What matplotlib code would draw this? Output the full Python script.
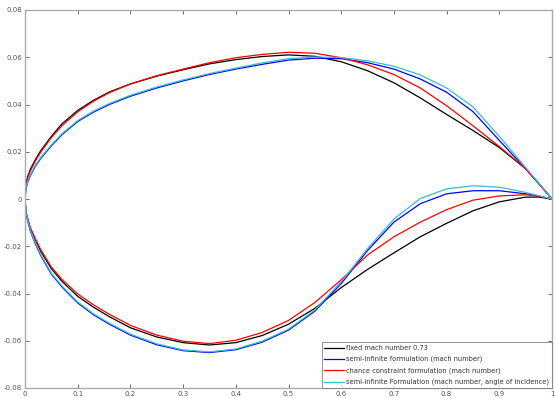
# airfoil shapes: fixed vs robust formulations
import matplotlib
matplotlib.use('Agg')
import matplotlib.pyplot as plt

xs = [0, 0.002, 0.005, 0.01, 0.02, 0.03, 0.05, 0.07, 0.1, 0.13, 0.16, 0.2, 0.25, 0.3,
      0.35, 0.4, 0.45, 0.5, 0.55, 0.6, 0.65, 0.7, 0.75, 0.8, 0.85, 0.9, 0.95, 0.975, 1.0]

# upper surfaces
fixed_up = [0, 0.0068, 0.0095, 0.0125, 0.0168, 0.0205, 0.0265, 0.0318, 0.0375, 0.0418,
            0.0453, 0.0487, 0.052, 0.0547, 0.0572, 0.059, 0.0603, 0.061, 0.0604, 0.0581,
            0.0543, 0.0492, 0.0428, 0.0358, 0.029, 0.0218, 0.0128, 0.0065, 0]
semi_up = [0, 0.0045, 0.007, 0.0098, 0.014, 0.0172, 0.0225, 0.0272, 0.0328, 0.0368,
           0.040, 0.0435, 0.047, 0.050, 0.0527, 0.055, 0.057, 0.0588, 0.0596, 0.0594,
           0.0577, 0.055, 0.0508, 0.0452, 0.037, 0.0248, 0.0128, 0.0065, 0]
chance_up = [0, 0.0058, 0.0088, 0.0118, 0.0162, 0.0199, 0.026, 0.031, 0.0369, 0.0414,
             0.045, 0.0487, 0.0522, 0.055, 0.0577, 0.0598, 0.0612, 0.0621, 0.0617, 0.0598,
             0.0568, 0.0527, 0.047, 0.0395, 0.031, 0.0222, 0.0128, 0.0066, 0]
semi_aoa_up = [0, 0.0048, 0.0074, 0.0102, 0.0144, 0.0176, 0.0229, 0.0276, 0.0332, 0.0372,
               0.0404, 0.0439, 0.0474, 0.0504, 0.0531, 0.0554, 0.0576, 0.0594, 0.0601, 0.0599,
               0.0585, 0.0562, 0.0525, 0.047, 0.039, 0.0265, 0.0133, 0.0067, 0]

# lower surfaces
fixed_lo = [0, -0.006, -0.0085, -0.0125, -0.0175, -0.0222, -0.0295, -0.0348, -0.0412,
            -0.0458, -0.0498, -0.0545, -0.0584, -0.0608, -0.0618, -0.0608, -0.0578, -0.053,
            -0.0463, -0.0375, -0.0298, -0.0228, -0.016, -0.0103, -0.005, -0.0012, 0.0008,
            0.0008, 0]
semi_lo = [0, -0.0062, -0.0092, -0.0135, -0.0192, -0.024, -0.0318, -0.0372, -0.044,
           -0.049, -0.053, -0.0576, -0.0617, -0.0642, -0.065, -0.0638, -0.0606, -0.0555,
           -0.0475, -0.0358, -0.0218, -0.0098, -0.002, 0.0022, 0.0035, 0.0035, 0.0022,
           0.0012, 0]
chance_lo = [0, -0.0055, -0.008, -0.012, -0.017, -0.0215, -0.0288, -0.034, -0.0402,
             -0.0448, -0.0488, -0.0535, -0.0576, -0.0602, -0.0612, -0.0598, -0.0565,
             -0.0514, -0.0438, -0.0342, -0.0237, -0.016, -0.0098, -0.0045, -0.0005, 0.0013,
             0.0018, 0.0012, 0]
semi_aoa_lo = [0, -0.0058, -0.0088, -0.0131, -0.0188, -0.0236, -0.0314, -0.0368, -0.0436,
               -0.0486, -0.0526, -0.0572, -0.0613, -0.0639, -0.0647, -0.0635, -0.0602,
               -0.0551, -0.047, -0.035, -0.021, -0.0085, 0.0002, 0.0043, 0.0056, 0.005,
               0.0028, 0.0014, 0]

labels = ['fixed mach number 0.73',
          'semi-infinite formulation (mach number)',
          'chance constraint formulation (mach number)',
          'semi-infinite Formulation (mach number, angle of incidence)']
colors = ['black', '#0000ff', '#ff0000', '#33bfd0']

fig = plt.figure(figsize=(5.55, 3.98), dpi=100)
ax = fig.add_axes([25/555, 1-388/398, 527/555, 378/398])

uppers = [fixed_up, semi_up, chance_up, semi_aoa_up]
lowers = [fixed_lo, semi_lo, chance_lo, semi_aoa_lo]
for up, lo, c, lab in zip(uppers, lowers, colors, labels):
    ax.plot(xs, up, color=c, lw=0.9, label=lab)
    ax.plot(xs, lo, color=c, lw=0.9)

ax.set_xlim(0, 1)
ax.set_ylim(-0.08, 0.08)
xt = [0, 0.1, 0.2, 0.3, 0.4, 0.5, 0.6, 0.7, 0.8, 0.9, 1]
yt = [-0.08, -0.06, -0.04, -0.02, 0, 0.02, 0.04, 0.06, 0.08]
ax.set_xticks(xt)
ax.set_xticklabels(['0', '0.1', '0.2', '0.3', '0.4', '0.5', '0.6', '0.7', '0.8', '0.9', '1'])
ax.set_yticks(yt)
ax.set_yticklabels(['-0.08', '-0.06', '-0.04', '-0.02', '0', '0.02', '0.04', '0.06', '0.08'])
ax.tick_params(direction='in', top=True, right=True, labelsize=5, colors='#555555',
               length=3, width=0.6, pad=2)
for s in ax.spines.values():
    s.set_color('#aaaaaa')
    s.set_linewidth(1.0)

leg = ax.legend(loc='lower right', fontsize=4.8, frameon=True, fancybox=False,
                borderaxespad=0, handlelength=3.0, handletextpad=0.3, labelspacing=0.75,
                borderpad=0.4)
leg.get_frame().set_edgecolor('#666666')
leg.get_frame().set_linewidth(0.6)
for t in leg.get_texts():
    t.set_color('#333333')

fig.savefig('out.png', dpi=100)
